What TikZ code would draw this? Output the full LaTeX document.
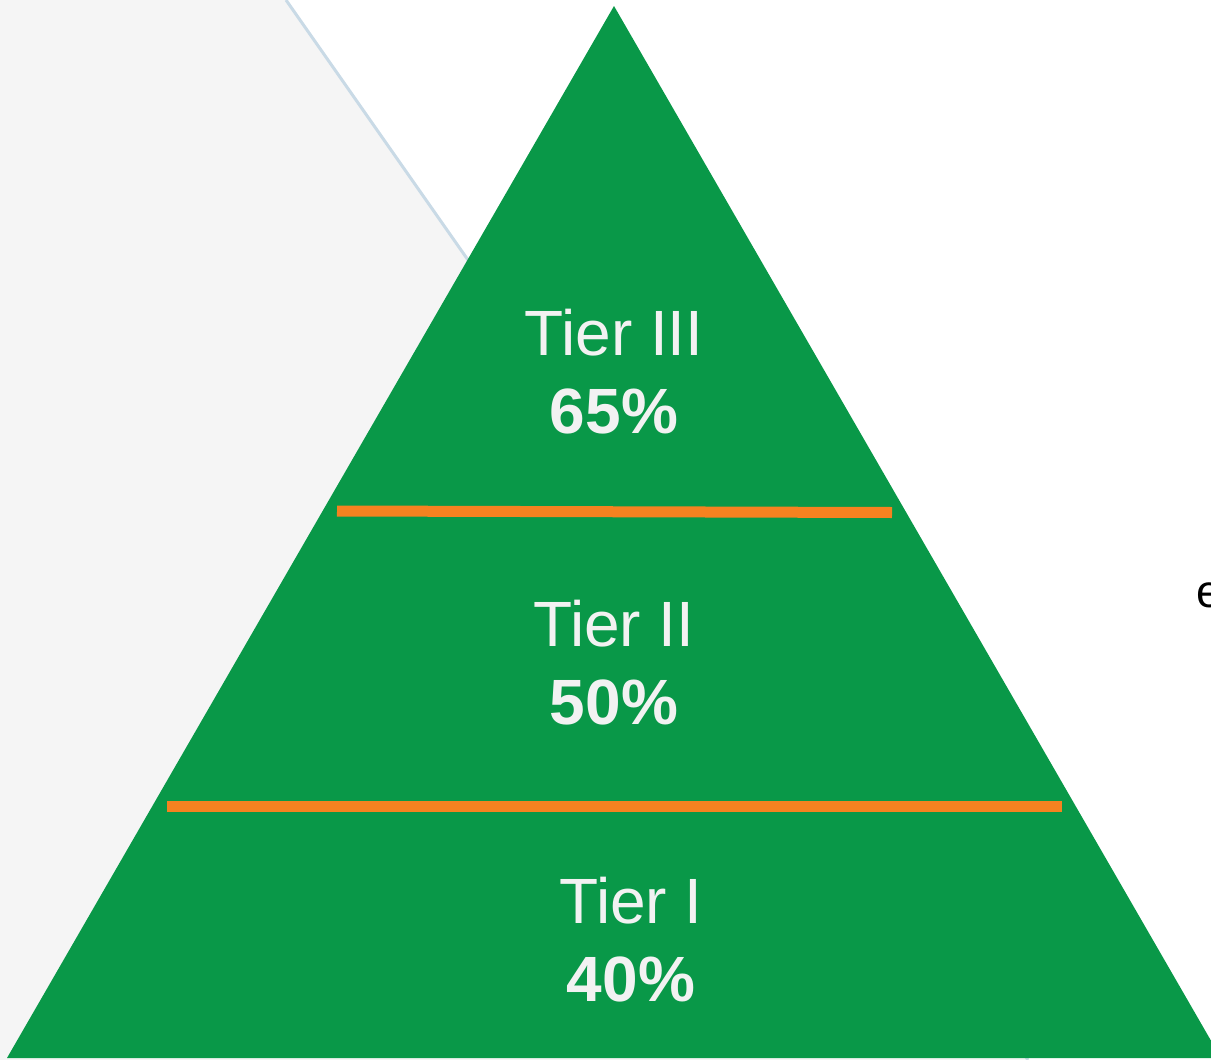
\documentclass[tikz,border=0pt]{standalone}
\usepackage{fontspec}
\setmainfont{Liberation Sans}
\usetikzlibrary{positioning}
\definecolor{pyrgreen}{HTML}{099848}
\definecolor{tierbar}{HTML}{F58220}
\definecolor{tiertext}{HTML}{F2F2F2}
\definecolor{sidebg}{HTML}{F5F5F5}
\definecolor{sideedge}{HTML}{C9DAE6}
\tikzset{
  tierlabel/.style={anchor=base, align=center, text=tiertext, inner sep=0pt,
                    font=\fontsize{64}{78}\selectfont},
  tierbarline/.style={draw=tierbar, line width=11pt, line cap=butt},
  sidepanel/.style={fill=sidebg, draw=none},
  sideline/.style={draw=sideedge, line width=3pt}}

\begin{document}
\begin{tikzpicture}[x=1pt, y=-1pt]
    \useasboundingbox (0,0) rectangle (1211,1060);
    % grey panel behind the pyramid
    \fill[sidepanel] (0,0) -- (286,0) -- (1028,1060) -- (0,1060) -- cycle;
    \draw[sideline] (286,0) coordinate (edgetop) -- (1028,1060) coordinate (edgebot);
    % the pyramid
    \fill[pyrgreen] (7,1058) coordinate (baseL) -- (614,6) coordinate (apex)
      -- (1221,1058) coordinate (baseR) -- cycle;
    % separators between the tiers
    \coordinate (sepAL) at (337,511);
    \coordinate (sepAR) at (892,512.5);
    \coordinate (sepBL) at (167,806.5);
    \coordinate (sepBR) at (1062,806.5);
    \draw[tierbarline] (sepAL) -- (sepAR);
    \draw[tierbarline] (sepBL) -- (sepBR);
    % tier labels (base = baseline of the percentage line)
    \node[tierlabel] (tier3) at (614,433) {Tier III\\\textbf{65\%}};
    \node[tierlabel] (tier2) at (614,724) {Tier II\\\textbf{50\%}};
    \node[tierlabel] (tier1) at (631,1001) {Tier I\\\textbf{40\%}};
    \node[anchor=base west, inner sep=0pt, font=\fontsize{46}{54}\selectfont]
      (cut) at (1196,607) {e};
  \end{tikzpicture}
\end{document}
